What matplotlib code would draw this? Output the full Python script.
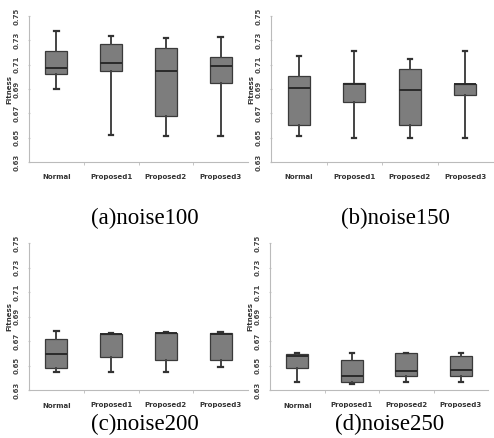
import matplotlib
matplotlib.use("Agg")
import matplotlib.pyplot as plt

W, H = 494, 438

methods = ["Normal", "Proposed1", "Proposed2", "Proposed3"]
yticks = [0.63, 0.65, 0.67, 0.69, 0.71, 0.73, 0.75]
captions = ["(a)noise100", "(b)noise150", "(c)noise200", "(d)noise250"]

# five-number summaries: whislo, q1, med, q3, whishi
noise100_lo = [0.690, 0.652, 0.651, 0.651]
noise100_q1 = [0.702, 0.705, 0.668, 0.695]
noise100_med = [0.7075, 0.7115, 0.705, 0.709]
noise100_q3 = [0.721, 0.727, 0.724, 0.716]
noise100_hi = [0.738, 0.7335, 0.732, 0.7325]

noise150_lo = [0.651, 0.650, 0.650, 0.650]
noise150_q1 = [0.660, 0.6795, 0.660, 0.685]
noise150_med = [0.691, 0.6942, 0.6888, 0.6940]
noise150_q3 = [0.701, 0.6950, 0.7066, 0.6945]
noise150_hi = [0.717, 0.721, 0.7148, 0.721]

noise200_lo = [0.6444, 0.6449, 0.6449, 0.6484]
noise200_q1 = [0.6478, 0.6573, 0.6543, 0.6543]
noise200_med = [0.659, 0.6755, 0.6763, 0.6760]
noise200_q3 = [0.672, 0.6758, 0.6766, 0.6763]
noise200_hi = [0.678, 0.6762, 0.6773, 0.6770]

noise250_lo = [0.6368, 0.6347, 0.6368, 0.6368]
noise250_q1 = [0.6478, 0.6368, 0.6415, 0.6415]
noise250_med = [0.6578, 0.6415, 0.6455, 0.6464]
noise250_q3 = [0.6592, 0.6545, 0.6600, 0.6578]
noise250_hi = [0.6600, 0.6605, 0.6605, 0.6605]

panels = [
    (noise100_lo, noise100_q1, noise100_med, noise100_q3, noise100_hi),
    (noise150_lo, noise150_q1, noise150_med, noise150_q3, noise150_hi),
    (noise200_lo, noise200_q1, noise200_med, noise200_q3, noise200_hi),
    (noise250_lo, noise250_q1, noise250_med, noise250_q3, noise250_hi),
]

# axes boxes in pixels: left, right, top, bottom
boxes_px = [(29, 248, 16, 162), (271, 493, 16, 162),
            (29, 248, 243, 390), (270, 488, 243, 390)]
caption_pos = [(145, 218), (395, 218), (145, 424), (390, 424)]

fig = plt.figure(figsize=(W / 100, H / 100), dpi=100)

for (lo, q1, med, q3, hi), (l, r, t, b), cap, cpos in zip(panels, boxes_px, captions, caption_pos):
    ax = fig.add_axes([l / W, 1 - b / H, (r - l) / W, (b - t) / H])
    stats = [dict(whislo=a, q1=c, med=d, q3=e, whishi=f, label=m)
             for a, c, d, e, f, m in zip(lo, q1, med, q3, hi, methods)]
    ax.bxp(stats, positions=[1, 2, 3, 4], widths=0.4, showfliers=False,
           patch_artist=True, capwidths=0.08,
           boxprops=dict(facecolor="#7d7d7d", edgecolor="#3a3a3a", linewidth=0.9),
           medianprops=dict(color="#2a2a2a", linewidth=1.4),
           whiskerprops=dict(color="#444444", linewidth=1.4),
           capprops=dict(color="#333333", linewidth=1.6))
    ax.set_xlim(0.5, 4.5)
    ax.set_ylim(0.63, 0.75)
    ax.set_yticks(yticks)
    ax.set_yticklabels([f"{v:.2f}" for v in yticks], rotation=90, va="center",
                       fontsize=5, fontweight="bold", color="#444444")
    ax.set_xticks([1, 2, 3, 4])
    ax.set_xticklabels(methods, fontsize=5, fontweight="bold", color="#333333")
    ax.set_xticks([1.5, 2.5, 3.5], minor=True)
    ax.tick_params(axis="x", which="major", length=0, pad=9)
    ax.tick_params(axis="x", which="minor", length=2, color="#bbbbbb")
    ax.tick_params(axis="y", length=2, direction="inout", color="#cccccc", pad=6)
    ax.set_ylabel("Fitness", fontsize=5, fontweight="bold", color="#333333", labelpad=1)
    for s in ("top", "right"):
        ax.spines[s].set_visible(False)
    for s in ("left", "bottom"):
        ax.spines[s].set_color("#bbbbbb")
        ax.spines[s].set_linewidth(0.8)
    fig.text(cpos[0] / W, 1 - cpos[1] / H, cap, ha="center", va="center",
             fontsize=16.5, family="Liberation Serif")

fig.savefig("out.png", dpi=100)
